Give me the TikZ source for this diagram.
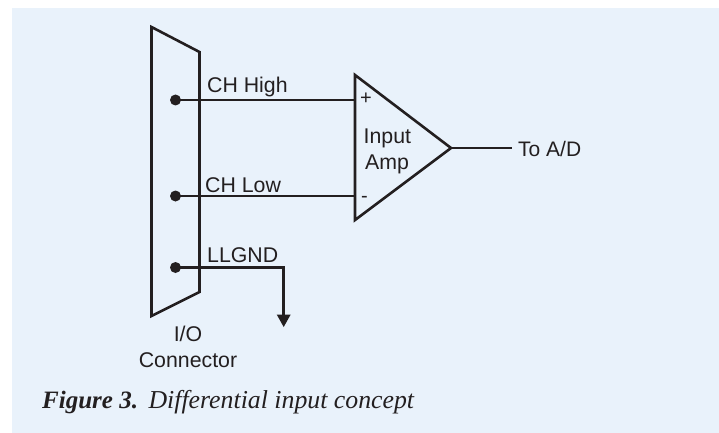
\documentclass[tikz,border=0pt]{standalone}
\usepackage{fontspec}
\setmainfont{Liberation Sans}
\newfontfamily\capfont{Liberation Serif}
\definecolor{panel}{HTML}{E9F2FB}
\definecolor{ink}{HTML}{231F20}
\begin{document}
\begin{tikzpicture}[x=1pt,y=-1pt,
  wire/.style={draw=ink,line width=2.6pt},
  outline/.style={draw=ink,line width=2.6pt,line join=miter},
  pin/.style={circle,fill=ink,inner sep=0pt,minimum size=11pt},
  lbl/.style={text=ink,font=\fontsize{21.3}{24}\selectfont,inner sep=0pt,anchor=base west},
  sign/.style={text=ink,font=\fontsize{20}{22}\selectfont,inner sep=0pt,anchor=base west},
  captext/.style={text=ink,font=\capfont\itshape\fontsize{25.8}{28}\selectfont,inner sep=0pt,anchor=base west}]
\useasboundingbox (0,0) rectangle (719,433);
\fill[white] (0,0) rectangle (719,433);
\fill[panel] (12,8) rectangle (719,433);
\draw[outline] (151.5,27) -- (199.5,52) -- (199.5,292) -- (151.5,316) -- cycle;
\draw[outline] (355,75) -- (451,148) -- (355,220) -- cycle;
\node[pin] (p1) at (175.5,100) {};
\node[pin] (p2) at (175.5,196) {};
\node[pin] (p3) at (175.5,267.5) {};
\coordinate (a1) at (355,100);
\coordinate (a2) at (355,196);
\coordinate (o) at (451,148);
\coordinate (oe) at (512,148);
\coordinate (g) at (283.7,267.5);
\coordinate (ge) at (283.7,327);
\draw[wire] (p1.center) -- (a1);
\draw[wire] (p2.center) -- (a2);
\draw[wire] (o) -- (oe);
\draw[wire] (p3.center) -- (g) -- (283.7,316);
\fill[ink] (276.7,314.5) -- (290.7,314.5) -- (ge) -- cycle;
\node[lbl] (t1) at (207,93) {CH High};
\node[lbl] (t2) at (205,192) {CH Low};
\node[lbl] (t3) at (207,262) {LLGND};
\node[lbl,font=\fontsize{21}{24}\selectfont] (t4) at (518,156) {To A/D};
\node[lbl] (t5) at (363.5,143) {Input};
\node[lbl] (t6) at (365,169) {Amp};
\node[sign] (t7) at (360,105) {+};
\node[sign] (t8) at (361,202) {-};
\node[lbl,anchor=base] (t9) at (188,341) {I/O};
\node[lbl,anchor=base] (t10) at (188,367) {Connector};
\node[captext] (c) at (42,408) {{\bfseries\fontsize{25}{28}\selectfont Figure 3.}\hspace{10.5pt}Differential input concept};
\end{tikzpicture}
\end{document}
